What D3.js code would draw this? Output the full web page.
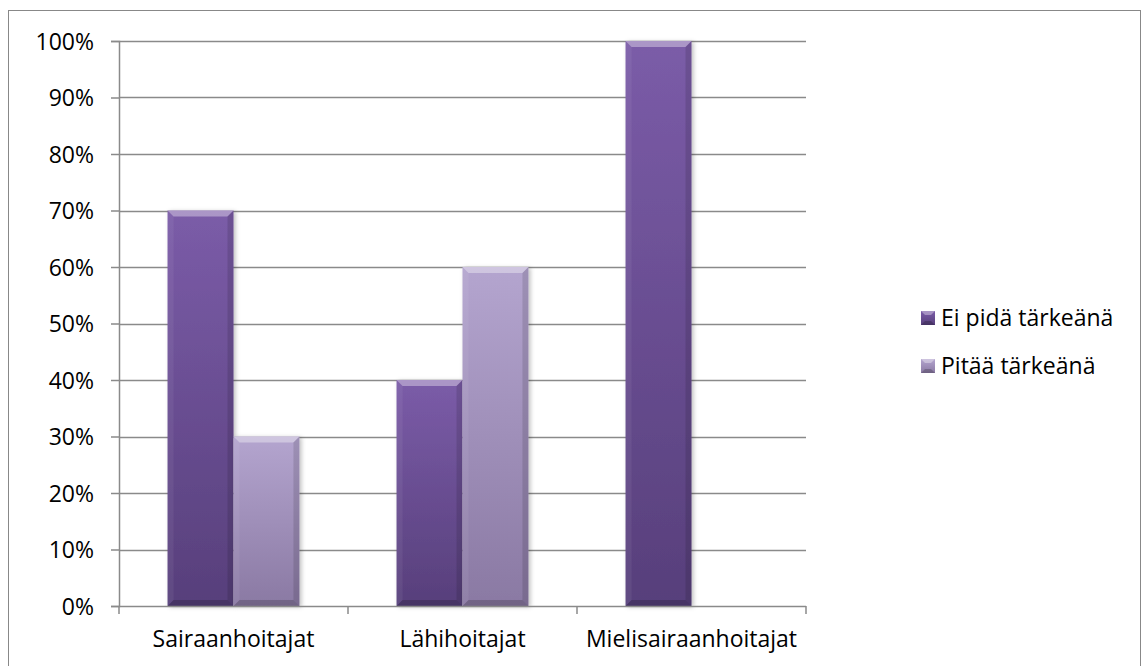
<!DOCTYPE html>
<meta charset="utf-8">
<style>
body { margin: 0; background: #fff; }
text {
  font-family: "Open Sans", "Noto Sans", sans-serif;
  font-size: 23px;
  fill: #000;
}
</style>
<svg width="1142" height="666"></svg>
<script src="https://cdn.jsdelivr.net/npm/d3@7"></script>
<script>

var categories = ["Sairaanhoitajat", "Lähihoitajat", "Mielisairaanhoitajat"];
var series = ["Ei pidä tärkeänä", "Pitää tärkeänä"];
var eiPida = [0.70, 0.40, 1.00];
var pitaa = [0.30, 0.60, 0.00];
var yTicks = [0, 0.1, 0.2, 0.3, 0.4, 0.5, 0.6, 0.7, 0.8, 0.9, 1.0];

var svg = d3.select("svg");

var plotLeft = 119, plotRight = 806, plotTop = 41, plotBottom = 606;

var x0 = d3.scaleBand().domain(categories).range([plotLeft, plotRight]);
var bw = x0.bandwidth();
var x1 = d3.scaleBand().domain(series).range([bw * 0.212, bw * 0.788]);
var y = d3.scaleLinear().domain([0, 1]).range([plotBottom, plotTop]);

var colors = [
  ["#7b5ca8", "#573f7b"],
  ["#b4a5cf", "#8a79a3"]
];

var defs = svg.append("defs");
colors.forEach(function(c, i) {
  var g = defs.append("linearGradient")
      .attr("id", "grad" + i)
      .attr("x1", 0).attr("y1", 0).attr("x2", 0).attr("y2", 1);
  g.append("stop").attr("offset", "0%").attr("stop-color", c[0]);
  g.append("stop").attr("offset", "100%").attr("stop-color", c[1]);
});
var f = defs.append("filter").attr("id", "shadow")
    .attr("x", "-10%").attr("y", "-10%").attr("width", "130%").attr("height", "120%");
f.append("feDropShadow").attr("dx", 2).attr("dy", 1)
    .attr("stdDeviation", 2).attr("flood-color", "#000").attr("flood-opacity", 0.25);

// outer border
svg.append("rect")
    .attr("x", 8.5).attr("y", 10.5)
    .attr("width", 1132).attr("height", 670)
    .attr("fill", "none").attr("stroke", "#888");

// gridlines
svg.append("g").selectAll("line")
  .data(yTicks.slice(1))
  .enter().append("line")
    .attr("x1", plotLeft).attr("x2", plotRight)
    .attr("y1", function(d) { return Math.round(y(d)) + 0.5; })
    .attr("y2", function(d) { return Math.round(y(d)) + 0.5; })
    .attr("stroke", "#8a8a8a").attr("stroke-width", 1.5);

// y axis
var yAxis = svg.append("g")
    .attr("transform", "translate(" + plotLeft + ",0)")
    .call(d3.axisLeft(y).tickValues(yTicks).tickFormat(d3.format(".0%")).tickSize(8).tickPadding(17));
yAxis.select(".domain").attr("stroke", "#8a8a8a").attr("stroke-width", 1.5);
yAxis.selectAll(".tick line").attr("stroke", "#8a8a8a").attr("stroke-width", 1.5);
yAxis.selectAll("text").attr("dy", "0.35em");
svg.selectAll("g[font-family]").attr("font-family", null).attr("font-size", null);

// bars
var data = [eiPida, pitaa];
var groups = svg.append("g").selectAll("g")
  .data(categories)
  .enter().append("g")
    .attr("transform", function(d) { return "translate(" + x0(d) + ",0)"; });

var bars = groups.selectAll("g.bar")
  .data(function(c, ci) {
    return series.map(function(s, si) { return {s: s, si: si, v: data[si][ci]}; })
      .filter(function(d) { return d.v > 0; });
  })
  .enter().append("g").attr("class", "bar");

bars.append("rect")
    .attr("x", function(d) { return x1(d.s); })
    .attr("y", function(d) { return y(d.v); })
    .attr("width", x1.bandwidth())
    .attr("height", function(d) { return y(0) - y(d.v); })
    .attr("fill", function(d) { return "url(#grad" + d.si + ")"; })
    .attr("filter", "url(#shadow)");

// bevel facets
var b = 6;
function facet(d, side) {
  var x = x1(d.s), w = x1.bandwidth(), t = y(d.v), bt = y(0);
  var pts;
  if (side === "top") pts = [[x, t], [x + w, t], [x + w - b, t + b], [x + b, t + b]];
  if (side === "bottom") pts = [[x, bt], [x + w, bt], [x + w - b, bt - b], [x + b, bt - b]];
  if (side === "left") pts = [[x, t], [x + b, t + b], [x + b, bt - b], [x, bt]];
  if (side === "right") pts = [[x + w, t], [x + w - b, t + b], [x + w - b, bt - b], [x + w, bt]];
  return pts.map(function(p) { return p.join(","); }).join(" ");
}
[["top", "#fff", 0.36], ["left", "#fff", 0.06], ["right", "#000", 0.12], ["bottom", "#000", 0.18]]
  .forEach(function(s) {
    bars.append("polygon")
        .attr("points", function(d) { return facet(d, s[0]); })
        .attr("fill", s[1]).attr("fill-opacity", s[2]);
  });

// x axis
var xAxis = svg.append("g")
    .attr("transform", "translate(0," + plotBottom + ")");
xAxis.append("line")
    .attr("x1", plotLeft).attr("x2", plotRight)
    .attr("y1", 0.5).attr("y2", 0.5)
    .attr("stroke", "#8a8a8a").attr("stroke-width", 1.5);
xAxis.selectAll("line.tick")
  .data(categories.concat([null]))
  .enter().append("line").attr("class", "tick")
    .attr("x1", function(d) { return d ? x0(d) : plotRight; })
    .attr("x2", function(d) { return d ? x0(d) : plotRight; })
    .attr("y1", 0).attr("y2", 8)
    .attr("stroke", "#8a8a8a").attr("stroke-width", 1.5);
xAxis.selectAll("text")
  .data(categories)
  .enter().append("text")
    .attr("x", function(d) { return x0(d) + bw / 2; })
    .attr("y", 41)
    .attr("text-anchor", "middle")
    .text(function(d) { return d; });

// legend
var legend = svg.append("g").selectAll("g")
  .data(series)
  .enter().append("g")
    .attr("transform", function(d, i) { return "translate(921," + (318 + i * 48) + ")"; });
legend.append("rect")
    .attr("x", 0).attr("y", -7)
    .attr("width", 14).attr("height", 14)
    .attr("fill", function(d, i) { return "url(#grad" + i + ")"; });
legend.append("polygon")
    .attr("points", "0,-7 14,-7 10,-3 4,-3")
    .attr("fill", "#fff").attr("fill-opacity", 0.35);
legend.append("polygon")
    .attr("points", "0,7 14,7 10,3 4,3")
    .attr("fill", "#000").attr("fill-opacity", 0.2);
legend.append("text")
    .attr("x", 20).attr("y", 0).attr("dy", "0.35em")
    .text(function(d) { return d; });

</script>
